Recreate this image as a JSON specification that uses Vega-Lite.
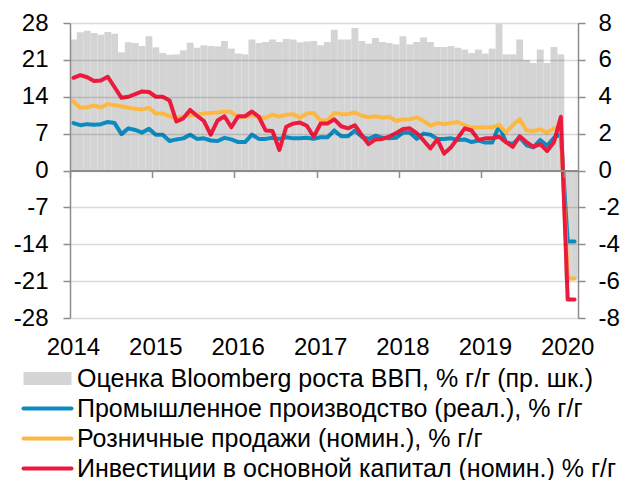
{
  "$schema": "https://vega.github.io/schema/vega-lite/v6.json",
  "width": 508,
  "height": 295,
  "autosize": "none",
  "padding": {"left": 70, "top": 23, "right": 48, "bottom": 162},
  "background": "white",
  "data": {
    "values": [
      {"m":"2014-01","gdp":7.10,"ip":9.0,"retail":13.1,"fai":17.6},
      {"m":"2014-02","gdp":7.50,"ip":8.6,"retail":11.9,"fai":18.1},
      {"m":"2014-03","gdp":7.58,"ip":8.8,"retail":12.0,"fai":17.7},
      {"m":"2014-04","gdp":7.46,"ip":8.7,"retail":12.3,"fai":17.0},
      {"m":"2014-05","gdp":7.36,"ip":8.8,"retail":12.0,"fai":17.1},
      {"m":"2014-06","gdp":7.51,"ip":9.2,"retail":12.6,"fai":17.8},
      {"m":"2014-07","gdp":7.42,"ip":9.0,"retail":12.4,"fai":15.8},
      {"m":"2014-08","gdp":6.41,"ip":6.9,"retail":12.2,"fai":13.8},
      {"m":"2014-09","gdp":6.95,"ip":8.0,"retail":11.9,"fai":14.0},
      {"m":"2014-10","gdp":6.92,"ip":7.7,"retail":11.7,"fai":14.5},
      {"m":"2014-11","gdp":6.75,"ip":7.2,"retail":11.6,"fai":15.0},
      {"m":"2014-12","gdp":7.28,"ip":7.9,"retail":11.9,"fai":14.9},
      {"m":"2015-01","gdp":6.68,"ip":6.8,"retail":10.8,"fai":14.0},
      {"m":"2015-02","gdp":6.37,"ip":6.8,"retail":10.8,"fai":14.0},
      {"m":"2015-03","gdp":6.28,"ip":5.6,"retail":10.3,"fai":13.3},
      {"m":"2015-04","gdp":6.30,"ip":5.9,"retail":10.0,"fai":9.3},
      {"m":"2015-05","gdp":6.52,"ip":6.1,"retail":10.2,"fai":9.9},
      {"m":"2015-06","gdp":6.93,"ip":6.8,"retail":10.5,"fai":11.5},
      {"m":"2015-07","gdp":6.66,"ip":6.0,"retail":10.6,"fai":10.4},
      {"m":"2015-08","gdp":6.79,"ip":6.1,"retail":10.8,"fai":9.4},
      {"m":"2015-09","gdp":6.75,"ip":5.7,"retail":10.9,"fai":6.8},
      {"m":"2015-10","gdp":6.73,"ip":5.6,"retail":11.0,"fai":9.5},
      {"m":"2015-11","gdp":7.02,"ip":6.2,"retail":11.2,"fai":10.3},
      {"m":"2015-12","gdp":6.61,"ip":5.9,"retail":11.1,"fai":8.2},
      {"m":"2016-01","gdp":6.34,"ip":5.4,"retail":10.1,"fai":10.3},
      {"m":"2016-02","gdp":6.30,"ip":5.4,"retail":10.2,"fai":10.3},
      {"m":"2016-03","gdp":7.10,"ip":6.8,"retail":10.5,"fai":11.2},
      {"m":"2016-04","gdp":6.92,"ip":6.0,"retail":10.1,"fai":10.2},
      {"m":"2016-05","gdp":6.97,"ip":6.0,"retail":10.0,"fai":7.6},
      {"m":"2016-06","gdp":7.10,"ip":6.2,"retail":10.6,"fai":7.5},
      {"m":"2016-07","gdp":6.97,"ip":6.0,"retail":10.2,"fai":3.9},
      {"m":"2016-08","gdp":7.13,"ip":6.3,"retail":10.6,"fai":8.3},
      {"m":"2016-09","gdp":7.10,"ip":6.1,"retail":10.7,"fai":8.9},
      {"m":"2016-10","gdp":6.95,"ip":6.1,"retail":10.0,"fai":9.1},
      {"m":"2016-11","gdp":6.99,"ip":6.2,"retail":10.8,"fai":8.5},
      {"m":"2016-12","gdp":7.02,"ip":6.0,"retail":10.9,"fai":6.4},
      {"m":"2017-01","gdp":6.79,"ip":6.3,"retail":9.5,"fai":8.9},
      {"m":"2017-02","gdp":6.97,"ip":6.3,"retail":9.5,"fai":8.9},
      {"m":"2017-03","gdp":7.64,"ip":7.6,"retail":10.9,"fai":9.7},
      {"m":"2017-04","gdp":7.11,"ip":6.5,"retail":10.7,"fai":8.4},
      {"m":"2017-05","gdp":7.11,"ip":6.5,"retail":10.7,"fai":8.0},
      {"m":"2017-06","gdp":7.73,"ip":7.6,"retail":11.0,"fai":8.6},
      {"m":"2017-07","gdp":7.02,"ip":6.4,"retail":10.4,"fai":6.7},
      {"m":"2017-08","gdp":6.88,"ip":6.0,"retail":10.1,"fai":5.0},
      {"m":"2017-09","gdp":7.19,"ip":6.6,"retail":10.3,"fai":5.9},
      {"m":"2017-10","gdp":6.97,"ip":6.2,"retail":10.0,"fai":6.0},
      {"m":"2017-11","gdp":6.92,"ip":6.1,"retail":10.2,"fai":6.4},
      {"m":"2017-12","gdp":6.84,"ip":6.2,"retail":9.4,"fai":7.1},
      {"m":"2018-01","gdp":7.28,"ip":7.2,"retail":9.7,"fai":7.9},
      {"m":"2018-02","gdp":6.84,"ip":7.2,"retail":9.7,"fai":8.0},
      {"m":"2018-03","gdp":6.97,"ip":6.0,"retail":10.1,"fai":7.1},
      {"m":"2018-04","gdp":7.21,"ip":7.0,"retail":9.4,"fai":5.7},
      {"m":"2018-05","gdp":6.97,"ip":6.8,"retail":8.5,"fai":4.2},
      {"m":"2018-06","gdp":6.70,"ip":6.0,"retail":9.0,"fai":5.9},
      {"m":"2018-07","gdp":6.70,"ip":6.0,"retail":8.8,"fai":3.2},
      {"m":"2018-08","gdp":6.75,"ip":6.1,"retail":9.0,"fai":4.4},
      {"m":"2018-09","gdp":6.66,"ip":5.8,"retail":9.2,"fai":6.2},
      {"m":"2018-10","gdp":6.56,"ip":5.9,"retail":8.6,"fai":8.0},
      {"m":"2018-11","gdp":6.37,"ip":5.4,"retail":8.1,"fai":7.6},
      {"m":"2018-12","gdp":6.56,"ip":5.7,"retail":8.2,"fai":5.8},
      {"m":"2019-01","gdp":6.34,"ip":5.3,"retail":8.2,"fai":6.1},
      {"m":"2019-02","gdp":6.61,"ip":5.3,"retail":8.2,"fai":6.1},
      {"m":"2019-03","gdp":7.93,"ip":8.5,"retail":8.7,"fai":6.4},
      {"m":"2019-04","gdp":6.30,"ip":5.4,"retail":7.2,"fai":5.4},
      {"m":"2019-05","gdp":6.30,"ip":5.0,"retail":8.6,"fai":4.5},
      {"m":"2019-06","gdp":7.10,"ip":6.3,"retail":9.8,"fai":6.5},
      {"m":"2019-07","gdp":6.00,"ip":4.8,"retail":7.6,"fai":5.4},
      {"m":"2019-08","gdp":5.83,"ip":4.4,"retail":7.5,"fai":4.5},
      {"m":"2019-09","gdp":6.56,"ip":5.8,"retail":7.8,"fai":5.0},
      {"m":"2019-10","gdp":5.83,"ip":4.7,"retail":7.2,"fai":3.7},
      {"m":"2019-11","gdp":6.70,"ip":6.2,"retail":8.0,"fai":5.4},
      {"m":"2019-12","gdp":6.30,"ip":6.9,"retail":8.0,"fai":10.2},
      {"m":"2020-01","gdp":-5.9,"ip":-13.5,"retail":-20.5,"fai":-24.5},
      {"m":"2020-02","gdp":-5.9,"ip":-13.5,"retail":-20.5,"fai":-24.5}
    ]
  },
  "transform": [
    {"fold": ["gdp", "ip", "retail", "fai"], "as": ["series", "value"]}
  ],
  "encoding": {
    "x": {
      "field": "m",
      "type": "ordinal",
      "scale": {"paddingInner": 0, "paddingOuter": 0},
      "axis": {
        "orient": "bottom",
        "offset": -147.5,
        "values": ["2014-01","2015-01","2016-01","2017-01","2018-01","2019-01","2020-01"],
        "bandPosition": 0,
        "labelExpr": "substring(datum.label, 0, 4)",
        "labelAngle": 0,
        "labelPadding": 158,
        "labelAlign": "center",
        "tickSize": 7,
        "domainWidth": 2,
        "zindex": 1
      }
    },
    "color": {
      "field": "series",
      "type": "nominal",
      "scale": {
        "domain": ["gdp", "ip", "retail", "fai"],
        "range": ["#D4D4D4", "#0C8BC1", "#FDB844", "#EC1B3D"]
      },
      "legend": {
        "orient": "none",
        "legendX": -35,
        "legendY": 343,
        "direction": "vertical",
        "title": null,
        "padding": 0,
        "symbolType": "stroke",
        "symbolSize": 2304,
        "symbolStrokeWidth": 4,
        "labelFont": "Liberation Sans",
        "labelFontSize": 25,
        "labelColor": "#000000",
        "labelLimit": 0,
        "labelOffset": 17,
        "rowPadding": 4,
        "labelExpr": "datum.value === 'gdp' ? 'Оценка Bloomberg роста ВВП, % г/г (пр. шк.)' : datum.value === 'ip' ? 'Промышленное производство (реал.), % г/г' : datum.value === 'retail' ? 'Розничные продажи (номин.), % г/г' : 'Инвестиции в основной капитал (номин.) % г/г'",
        "encode": {
          "symbols": {
            "update": {
              "shape": {"signal": "datum.value === 'gdp' ? 'M-1,-0.27H1V0.27H-1Z' : 'M-1,0H1'"},
              "fill": {"signal": "datum.value === 'gdp' ? '#D4D4D4' : 'transparent'"},
              "fillOpacity": {"value": 1},
              "stroke": {"signal": "datum.value === 'gdp' ? 'transparent' : scale('color', datum.value)"},
              "strokeWidth": {"signal": "datum.value === 'gdp' ? 0 : 4"},
              "strokeCap": {"value": "round"},
              "strokeJoin": {"value": "round"},
              "strokeOpacity": {"value": 1},
              "opacity": {"value": 1}
            }
          }
        }
      }
    }
  },
  "layer": [
    {
      "transform": [{"filter": "datum.series === 'gdp'"}],
      "mark": {"type": "bar", "opacity": 1},
      "encoding": {
        "y": {
          "field": "value",
          "type": "quantitative",
          "scale": {"domain": [-8, 8], "nice": false},
          "axis": {
            "orient": "right",
            "values": [-8, -6, -4, -2, 0, 2, 4, 6, 8],
            "labelExpr": "datum.value < 0 ? '-' + abs(datum.value) : '' + datum.value",
            "grid": false,
            "labelPadding": 13,
            "labelAlign": "left"
          }
        }
      }
    },
    {
      "transform": [{"filter": "datum.series !== 'gdp'"}],
      "mark": {"type": "line", "strokeWidth": 4, "strokeJoin": "round", "strokeCap": "round"},
      "encoding": {
        "y": {
          "field": "value",
          "type": "quantitative",
          "scale": {"domain": [-28, 28], "nice": false},
          "axis": {
            "orient": "left",
            "values": [-28, -21, -14, -7, 0, 7, 14, 21, 28],
            "labelExpr": "datum.value < 0 ? '-' + abs(datum.value) : '' + datum.value",
            "grid": true,
            "gridColor": "#000000",
            "gridOpacity": 0.14,
            "gridWidth": 1.5,
            "labelPadding": 15,
            "zindex": 1
          }
        }
      }
    }
  ],
  "resolve": {"scale": {"y": "independent"}},
  "config": {
    "view": {"stroke": null},
    "axis": {
      "title": null,
      "labelFont": "Liberation Sans",
      "labelFontSize": 24,
      "labelColor": "#000000",
      "domainColor": "#8C8C8C",
      "tickColor": "#8C8C8C",
      "domainWidth": 1.5,
      "tickWidth": 1.5,
      "tickSize": 7
    }
  }
}
